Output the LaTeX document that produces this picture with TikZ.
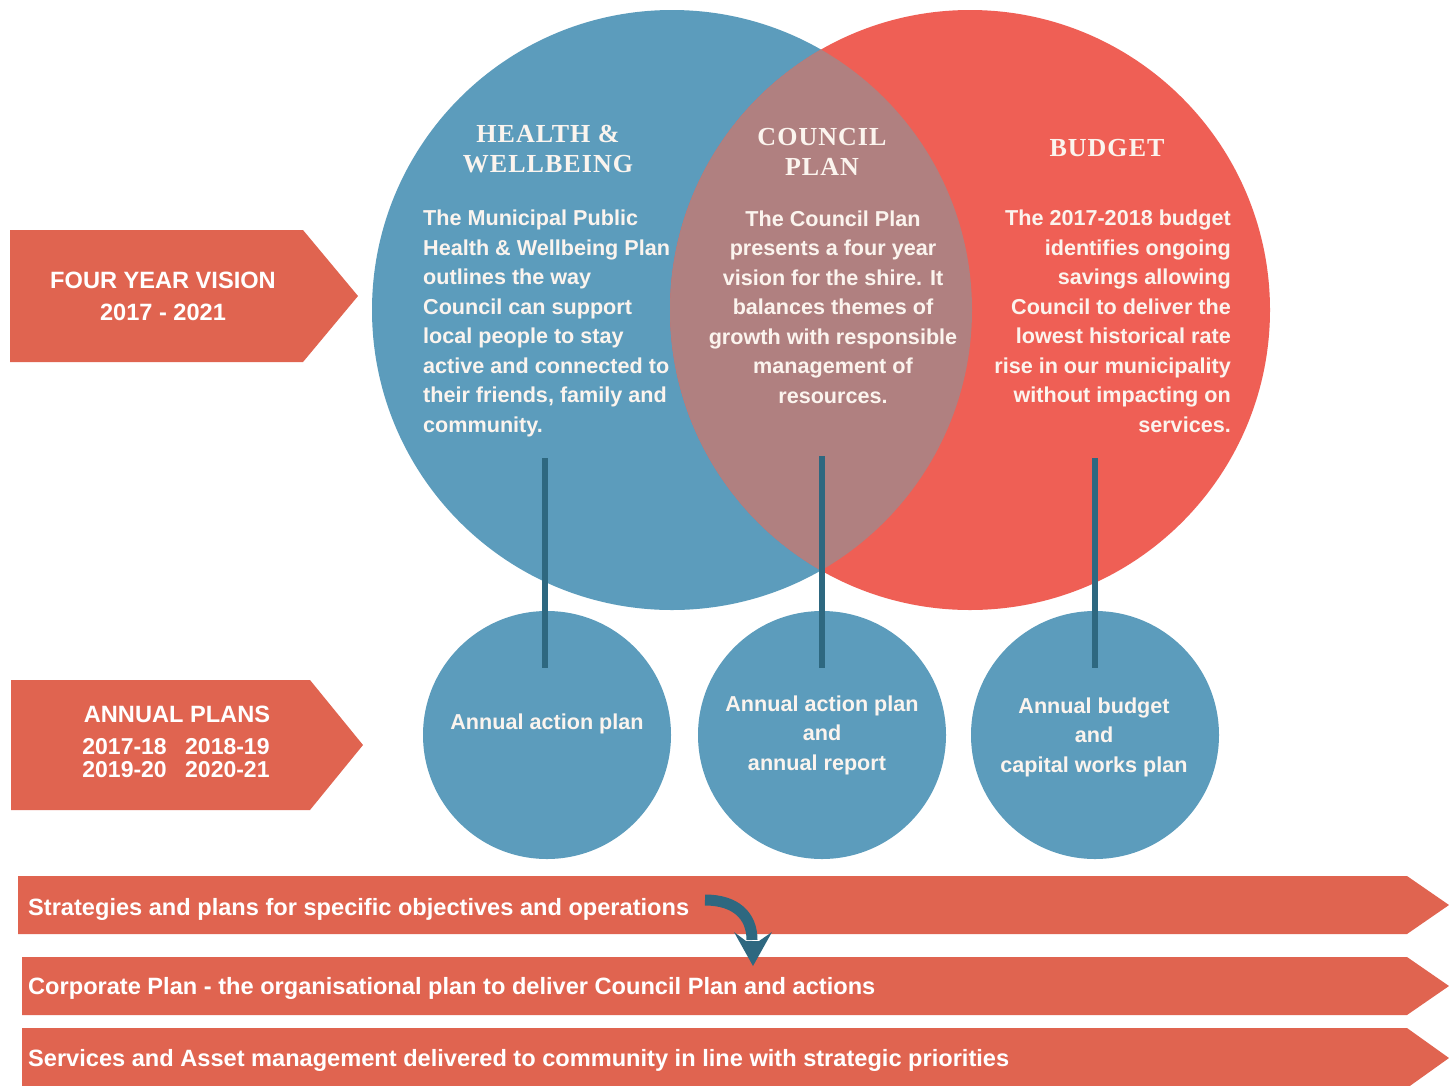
\documentclass[tikz,border=0pt]{standalone}
\usepackage{fontspec}
\setmainfont{Liberation Sans}
\newfontfamily\headfont[LetterSpace=4]{Liberation Serif}
\definecolor{cblue}{HTML}{5C9CBC}
\definecolor{cred}{HTML}{EF5F55}
\definecolor{clens}{HTML}{B08080}
\definecolor{cban}{HTML}{E06450}
\definecolor{cline}{HTML}{2E6880}
\definecolor{ctxt}{HTML}{FBF4EE}
\tikzset{
  body/.style={text=ctxt, inner sep=0pt, font=\fontsize{21.6}{29.5}\selectfont\bfseries},
  head/.style={text=ctxt, inner sep=0pt, align=center, font=\fontsize{26}{30}\selectfont\headfont\bfseries},
  small/.style={circle, fill=cblue, minimum size=248pt, inner sep=0pt},
  stem/.style={cline, line width=6pt},
  bantext/.style={text=white, inner sep=0pt, anchor=base west, font=\fontsize{23.6}{25}\selectfont\bfseries},
  lbl/.style={text=white, inner sep=0pt, align=center, font=\fontsize{23.6}{32}\selectfont\bfseries},
}
\begin{document}
\begin{tikzpicture}[x=1pt,y=-1pt]
\useasboundingbox (0,0) rectangle (1449,1085);
\fill[white] (0,0) rectangle (1449,1085);
% big circles
\fill[cblue] (672,310) circle (300);
\fill[cred] (970,310) circle (300);
\begin{scope}
  \clip (672,310) circle (300);
  \fill[clens] (970,310) circle (300);
\end{scope}
% small circles
\node[small] (c1) at (547,735) {};
\node[small] (c2) at (822,735) {};
\node[small] (c3) at (1095,735) {};
% stems
\coordinate (s1) at (545,458);
\coordinate (s2) at (822,456);
\coordinate (s3) at (1095,458);
\coordinate (e1) at (545,668);
\coordinate (e2) at (822,668);
\coordinate (e3) at (1095,668);
\draw[stem] (s1) -- (e1);
\draw[stem] (s2) -- (e2);
\draw[stem] (s3) -- (e3);
% headings
\node[head] (h1) at (548,149) {HEALTH \&\\WELLBEING};
\node[head] (h2) at (822,152) {COUNCIL\\PLAN};
\node[head] (h3) at (1107,148) {BUDGET};
% body texts (base anchor = last line baseline)
\node[body, align=left, anchor=base west] (t1) at (423,432) {The Municipal Public\\Health \& Wellbeing Plan\\outlines the way\\Council can support\\local people to stay\\active and connected to\\their friends, family and\\community.};
\node[body, align=center, anchor=base] (t2) at (833,403) {The Council Plan\\presents a four year\\vision for the shire. It\\balances themes of\\growth with responsible\\management of\\resources.};
\node[body, align=right, anchor=base east] (t3) at (1231,432) {The 2017-2018 budget\\identifies ongoing\\savings allowing\\Council to deliver the\\lowest historical rate\\rise in our municipality\\without impacting on\\services.};
% small circle texts
\node[body, align=center, anchor=base] (a1) at (547,729) {Annual action plan};
\node[body, align=center, anchor=base] (a2) at (822,770) {Annual action plan\\and\\annual report\hspace*{10pt}};
\node[body, align=center, anchor=base] (a3) at (1094,772) {Annual budget\\and\\capital works plan};
% left pentagons
\fill[cban] (10,230) -- (303,230) -- (358,296) -- (303,362) -- (10,362) -- cycle;
\node[lbl, anchor=base] (v) at (163,320) {FOUR YEAR VISION\\2017 - 2021};
\fill[cban] (11,680) -- (310,680) -- (363,745) -- (310,810) -- (11,810) -- cycle;
\node[lbl, anchor=base] (ap) at (177,722) {ANNUAL PLANS};
\node[lbl, anchor=base, font=\fontsize{23}{23}\selectfont\bfseries] (yrs) at (176,777) {2017-18\hspace{0.8em}2018-19\\2019-20\hspace{0.8em}2020-21};
% bottom banners
\fill[cban] (18,876) -- (1407,876) -- (1449,905) -- (1407,934) -- (18,934) -- cycle;
\fill[cban] (22,957) -- (1407,957) -- (1449,986) -- (1407,1015) -- (22,1015) -- cycle;
\fill[cban] (22,1028) -- (1407,1028) -- (1449,1058) -- (1407,1088) -- (22,1088) -- cycle;
\node[bantext] (b1) at (28,915) {Strategies and plans for specific objectives and operations};
\node[bantext] (b2) at (28,994) {Corporate Plan - the organisational plan to deliver Council Plan and actions};
\node[bantext] (b3) at (28,1066) {Services and Asset management delivered to community in line with strategic priorities};
% curved arrow
\coordinate (ar0) at (705,900);
\coordinate (ar1) at (752,940);
\draw[cline, line width=11pt] (ar0) .. controls (735,900) and (752,915) .. (ar1);
\fill[cline] (734,932) -- (753,966) -- (772,932) -- (759,941) -- (746,941) -- cycle;
\end{tikzpicture}
\end{document}
